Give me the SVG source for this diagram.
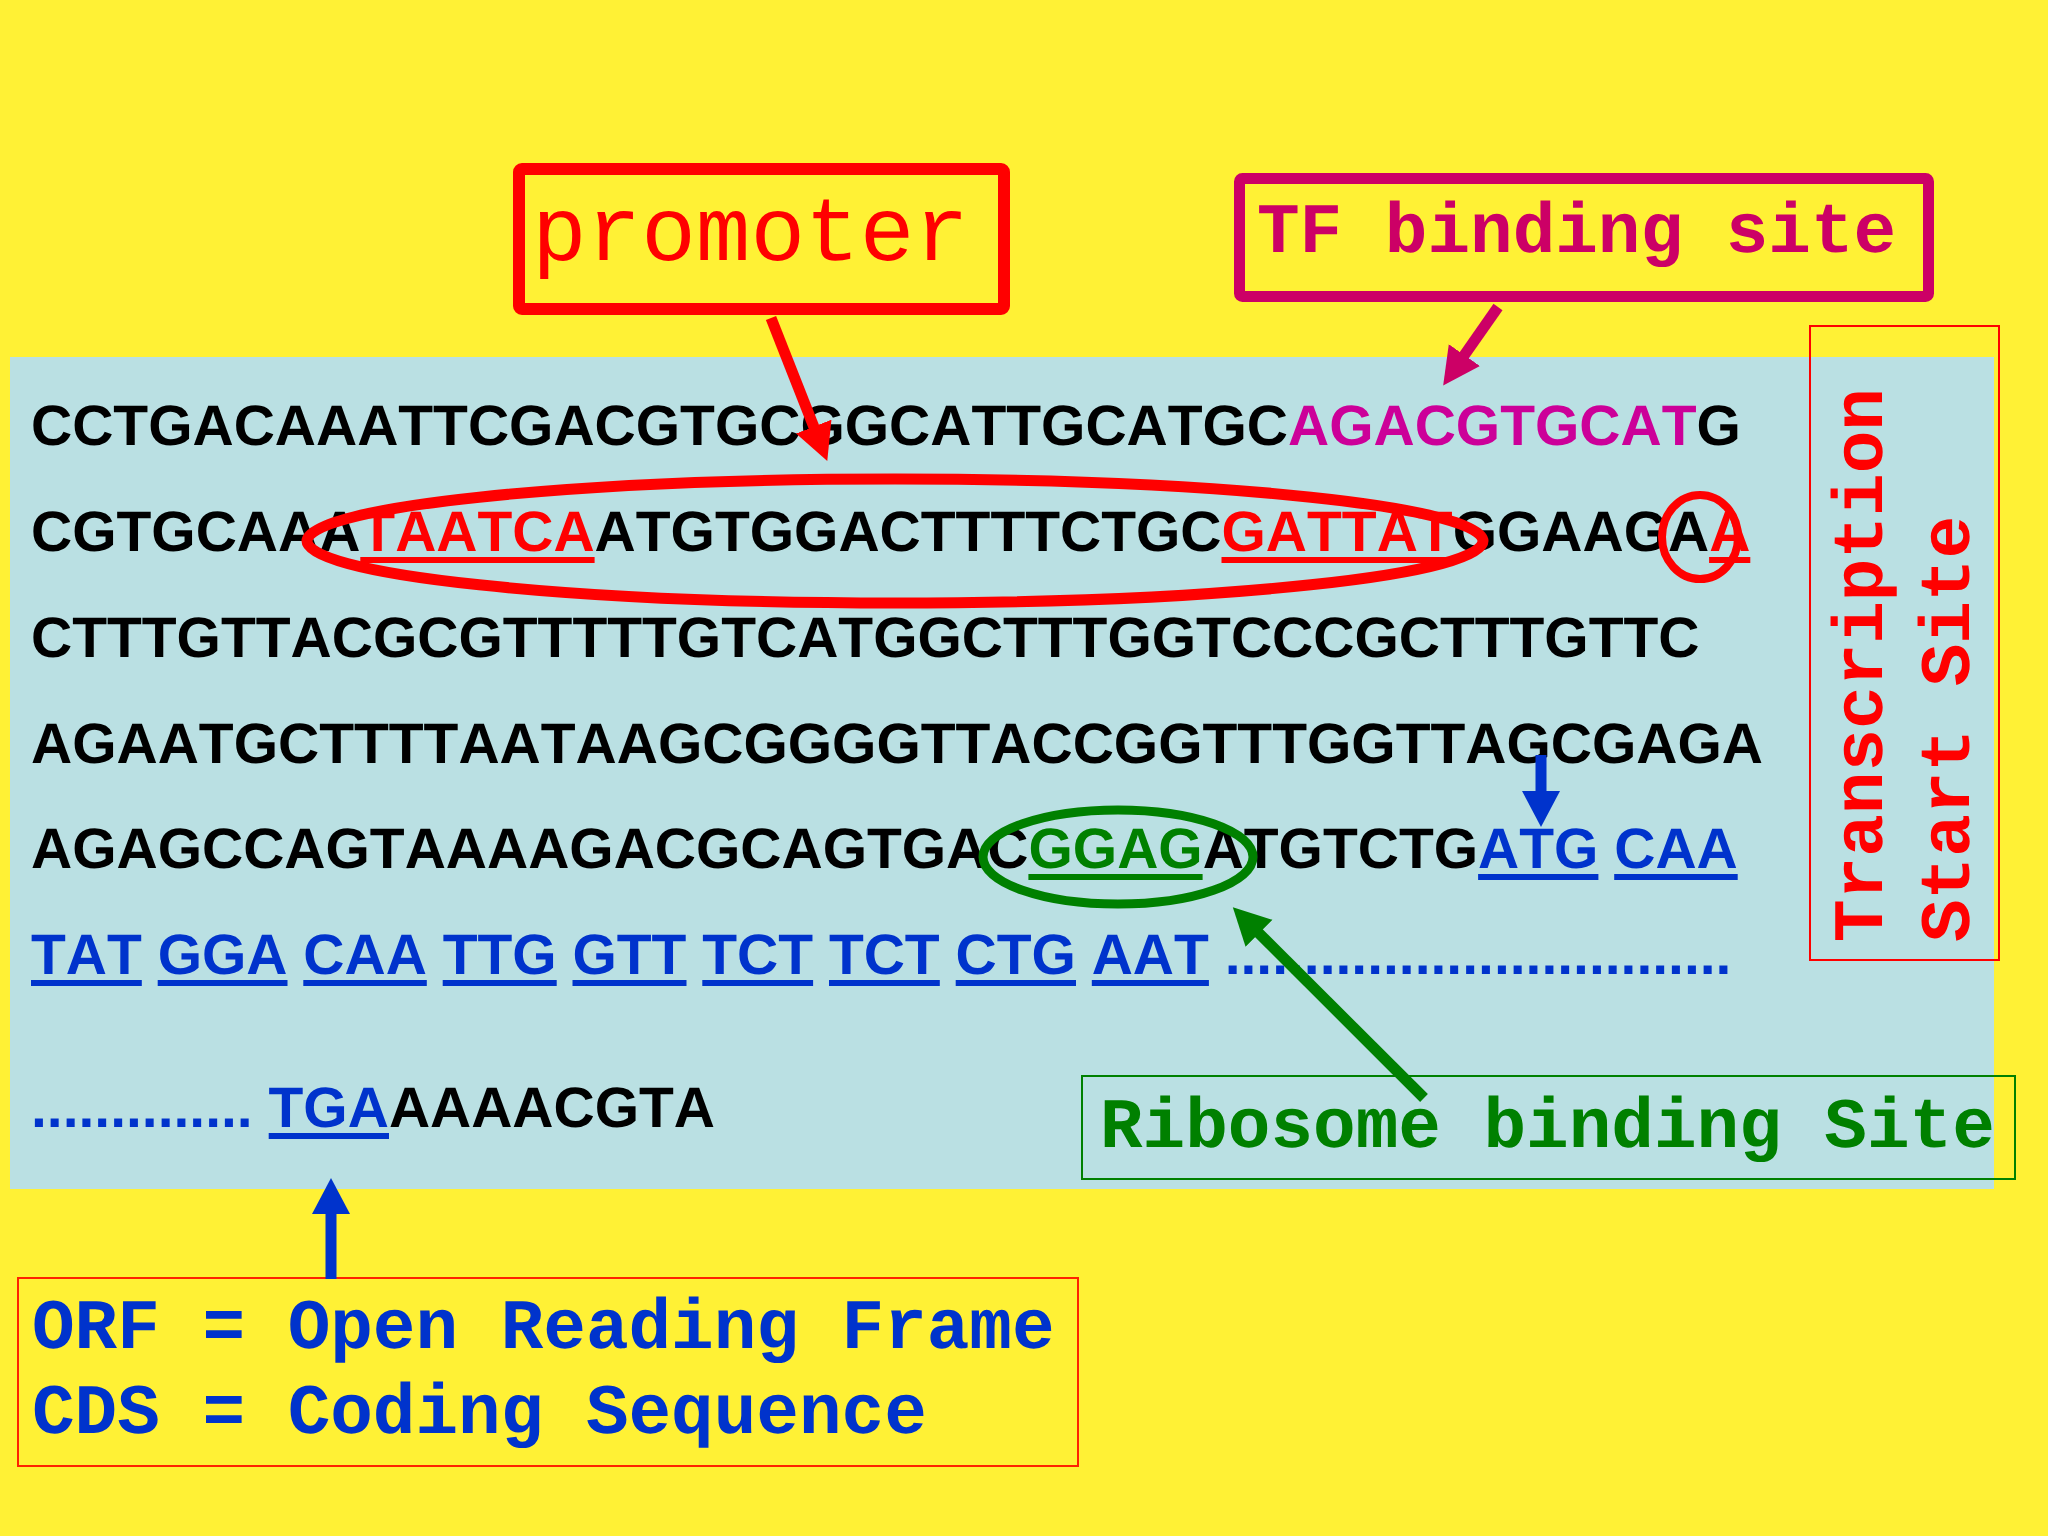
<svg xmlns="http://www.w3.org/2000/svg" width="2048" height="1536" viewBox="0 0 2048 1536">
<defs>
<style>
text{font-kerning:none;text-rendering:geometricPrecision}
.seq{font-family:"Liberation Sans",Arial,sans-serif;font-weight:bold;font-size:57px;fill:#000}
.lbl{font-family:"Liberation Mono","Courier New",monospace;font-weight:bold;font-size:71px}
.box{fill:none}
.red{fill:#FF0000}
.mag{fill:#CC0099}
.grn{fill:#008000}
.blu{fill:#0033CC}
.conn{fill:none;stroke-width:11}
</style>
<marker id="ah-red" markerUnits="userSpaceOnUse" viewBox="0 -20 40 40" markerWidth="40" markerHeight="40" refX="1" refY="0" orient="auto"><path d="M0,-19 L37,0 L0,19 z" fill="#FF0000"/></marker>
<marker id="ah-mag" markerUnits="userSpaceOnUse" viewBox="0 -20 40 40" markerWidth="40" markerHeight="40" refX="1" refY="0" orient="auto"><path d="M0,-19 L37,0 L0,19 z" fill="#CC0066"/></marker>
<marker id="ah-blu" markerUnits="userSpaceOnUse" viewBox="0 -20 40 40" markerWidth="40" markerHeight="40" refX="1" refY="0" orient="auto"><path d="M0,-19 L36,0 L0,19 z" fill="#0033CC"/></marker>
<marker id="ah-grn" markerUnits="userSpaceOnUse" viewBox="0 -20 40 40" markerWidth="40" markerHeight="40" refX="1" refY="0" orient="auto"><path d="M0,-19 L37,0 L0,19 z" fill="#008000"/></marker>
</defs>

<rect id="background" x="0" y="0" width="2048" height="1536" fill="#FFF135"/>
<rect id="panel" x="10" y="357" width="1984" height="832" fill="#BAE0E3"/>

<g id="sequence">
<text class="seq" x="31" y="445">CCTGACAAATTCGACGTGCGGCATTGCATGC<tspan class="mag">AGACGTGCAT</tspan>G</text>
<text class="seq" x="31" y="551">CGTGCAAA<tspan class="red">TAATCA</tspan>ATGTGGACTTTTCTGC<tspan class="red">GATTAT</tspan>GGAAGA<tspan class="red">A</tspan></text>
<text class="seq" x="31" y="657">CTTTGTTACGCGTTTTTGTCATGGCTTTGGTCCCGCTTTGTTC</text>
<text class="seq" x="31" y="763">AGAATGCTTTTAATAAGCGGGGTTACCGGTTTGGTTAGCGAGA</text>
<text class="seq" x="31" y="868">AGAGCCAGTAAAAGACGCAGTGAC<tspan class="grn">GGAG</tspan>ATGTCTG<tspan class="blu">ATG CAA</tspan></text>
<text class="seq blu" x="31" y="974">TAT GGA CAA TTG GTT TCT TCT CTG AAT ................................</text>
<text class="seq" x="31" y="1127"><tspan class="blu">.............. TGA</tspan>AAAACGTA</text>
<g id="underlines">
<rect class="red" x="360.3" y="557" width="234.3" height="6"/>
<rect class="red" x="1221.5" y="557" width="231.1" height="6"/>
<rect class="red" x="1709.1" y="557" width="41.2" height="6"/>
<rect class="grn" x="1028.4" y="874" width="174.2" height="6"/>
<rect class="blu" x="1478.1" y="874" width="120.3" height="6"/>
<rect class="blu" x="1614.2" y="874" width="123.5" height="6"/>
<rect class="blu" x="31" y="980" width="110.8" height="6"/>
<rect class="blu" x="157.7" y="980" width="129.8" height="6"/>
<rect class="blu" x="303.3" y="980" width="123.5" height="6"/>
<rect class="blu" x="442.7" y="980" width="114" height="6"/>
<rect class="blu" x="572.5" y="980" width="114" height="6"/>
<rect class="blu" x="702.3" y="980" width="110.8" height="6"/>
<rect class="blu" x="829" y="980" width="110.8" height="6"/>
<rect class="blu" x="955.7" y="980" width="120.3" height="6"/>
<rect class="blu" x="1091.8" y="980" width="117.1" height="6"/>
<rect class="blu" x="268.7" y="1133" width="120.3" height="6"/>
</g>
</g>

<g id="highlights" fill="none">
<ellipse cx="895" cy="541" rx="588" ry="62" stroke="#FF0000" stroke-width="11"/>
<ellipse cx="1700" cy="537" rx="38" ry="42" stroke="#FF0000" stroke-width="8"/>
<ellipse cx="1118" cy="857" rx="135" ry="47" stroke="#008000" stroke-width="9"/>
</g>

<g id="promoter">
<rect class="box" x="519" y="169" width="485" height="140" rx="3" stroke="#FF0000" stroke-width="12"/>
<text x="532" y="260" font-family="'Liberation Mono','Courier New',monospace" font-size="91" fill="#FF0000">promoter</text>
</g>

<g id="tf-binding-site">
<rect class="box" x="1239.5" y="178.5" width="689" height="118" rx="3" stroke="#CC0066" stroke-width="11"/>
<text class="lbl" x="1257" y="252" fill="#CC0066">TF binding site</text>
</g>

<g id="transcription-start-site">
<rect class="box" x="1810" y="326" width="189" height="634" stroke="#FF0000" stroke-width="2"/>
<text class="lbl red" transform="translate(1882,942) rotate(-90)">Transcription</text>
<text class="lbl red" transform="translate(1969,942) rotate(-90)">Start Site</text>
</g>

<g id="ribosome-binding-site">
<rect class="box" x="1082" y="1076" width="933" height="103" stroke="#008000" stroke-width="2"/>
<text class="lbl grn" x="1100" y="1147">Ribosome binding Site</text>
</g>

<g id="orf-cds">
<rect class="box" x="18" y="1278" width="1060" height="188" stroke="#FF2200" stroke-width="2"/>
<text class="lbl blu" x="32" y="1348">ORF = Open Reading Frame</text>
<text class="lbl blu" x="32" y="1433">CDS = Coding Sequence</text>
</g>

<g id="connectors">
<line class="conn" x1="771" y1="318" x2="814.1" y2="427.6" stroke="#FF0000" marker-end="url(#ah-red)"/>
<line class="conn" x1="1498" y1="307" x2="1463.8" y2="355.9" stroke="#CC0066" marker-end="url(#ah-mag)"/>
<line class="conn" x1="1541" y1="755" x2="1541" y2="792" stroke="#0033CC" marker-end="url(#ah-blu)"/>
<line class="conn" x1="331" y1="1279" x2="331" y2="1213" stroke="#0033CC" marker-end="url(#ah-blu)"/>
<line class="conn" x1="1424" y1="1098" x2="1258.3" y2="932.6" stroke="#008000" marker-end="url(#ah-grn)"/>
</g>
</svg>
